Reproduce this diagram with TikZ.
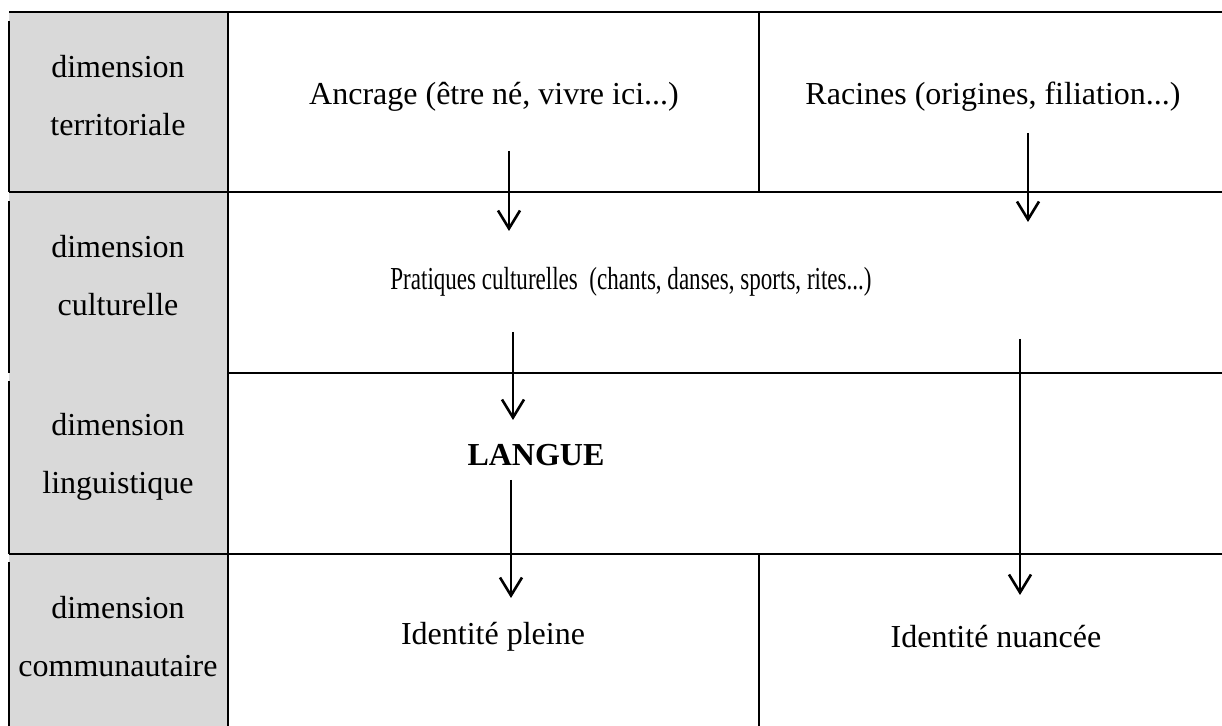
\documentclass[tikz,border=0pt]{standalone}
\usepackage{fontspec}
\setmainfont{Liberation Serif}
\usepackage{graphicx}
\usetikzlibrary{
  arrows.meta,%
  positioning,%
  calc
}
\definecolor{dimgrey}{RGB}{217,217,217}
\tikzset{>={Straight Barb[length=9pt,width=11pt]}}
\tikzset{font=\fontsize{16}{29}\selectfont}
\tikzset{dimlabel/.style={align=center, inner sep=0pt},
  every node/.append style={inner sep=0pt},
  rule/.style={line width=0.8pt},
  flow/.style={->, line width=1.3pt}}

\begin{document}
\begin{tikzpicture}[x=0.5pt, y=-0.5pt]
  \useasboundingbox (0,0) rectangle (1222,726); %
  \fill[dimgrey] (9,12) rectangle (228,726); %
  % table rules
  \begin{scope}[rule]
    \draw (9,12) -- (1222,12); %
    \draw (9,192) -- (1222,192); %
    \draw (228,373) -- (1222,373); %
    \draw (9,554) -- (1222,554); %
    \draw (228,12) -- (228,726); %
    \draw (759,12) -- (759,192); %
    \draw (759,554) -- (759,726); %
    \foreach \t/\b in {21/192, 201/373, 381/554, 562/726}
      \draw (9,\t) -- (9,\b); %
  \end{scope}
  % left column
  \node[dimlabel] (terr) at (118,96) {dimension\\territoriale}; %
  \node[dimlabel] (cult) at (118,276) {dimension\\culturelle}; %
  \node[dimlabel] (ling) at (118,457) {dimension\\linguistique}; %
  \node[dimlabel] (comm) at (118,637) {dimension\\communautaire}; %
  % cells
  \node (ancrage) at (494,97) {Ancrage (être né, vivre ici...)}; %
  \node (racines) at (993,97) {Racines (origines, filiation...)}; %
  \node (pratiques) at (631,282)
  {\scalebox{0.72}[1]{Pratiques culturelles\ \ (chants, danses, sports, rites...)}}; %
  \node (langue) at (536,455) {\bfseries LANGUE}; %
  \node (pleine) at (493,637) {Identité pleine}; %
  \node (nuancee) at (996,637) {Identité nuancée}; %
  % arrow ends
  \coordinate (anc-out) at (509,151); %
  \coordinate (pra-in-l) at (509,231); %
  \coordinate (rac-out) at (1028,133); %
  \coordinate (pra-in-r) at (1028,222); %
  \coordinate (pra-out-l) at (513,332); %
  \coordinate (lan-in) at (513,420); %
  \coordinate (lan-out) at (511,480); %
  \coordinate (ple-in) at (511,598); %
  \coordinate (pra-out-r) at (1020,339); %
  \coordinate (nua-in) at (1020,595); %
  \draw[flow] (anc-out) -- (pra-in-l); %
  \draw[flow] (rac-out) -- (pra-in-r); %
  \draw[flow] (pra-out-l) -- (lan-in); %
  \draw[flow] (lan-out) -- (ple-in); %
  \draw[flow] (pra-out-r) -- (nua-in); %
\end{tikzpicture}
\end{document}
